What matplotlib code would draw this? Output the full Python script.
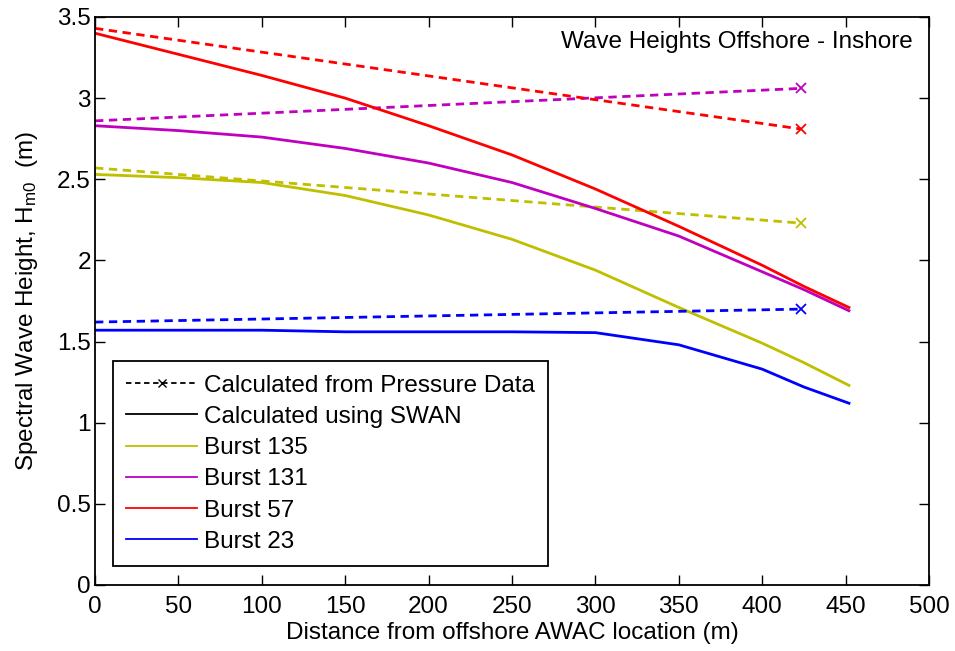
import matplotlib
matplotlib.use('Agg')
import matplotlib.pyplot as plt
from matplotlib.lines import Line2D

plt.rcParams['font.family'] = ['Liberation Sans', 'DejaVu Sans']
plt.rcParams['mathtext.fontset'] = 'custom'
plt.rcParams['mathtext.rm'] = 'Liberation Sans'
plt.rcParams['mathtext.it'] = 'Liberation Sans'

# SWAN model output along the transect
dist_swan = [0, 50, 100, 150, 200, 250, 300, 350, 400, 425, 452]
swan_135 = [2.53, 2.51, 2.48, 2.40, 2.28, 2.13, 1.94, 1.71, 1.49, 1.37, 1.23]
swan_131 = [2.83, 2.80, 2.76, 2.69, 2.60, 2.48, 2.32, 2.15, 1.93, 1.82, 1.69]
swan_57 = [3.40, 3.27, 3.14, 3.00, 2.83, 2.65, 2.44, 2.21, 1.97, 1.84, 1.71]
swan_23 = [1.57, 1.57, 1.57, 1.56, 1.56, 1.56, 1.555, 1.48, 1.33, 1.22, 1.12]

# Offshore / inshore AWAC pressure estimates
dist_awac = [0, 423]
press_135 = [2.57, 2.23]
press_131 = [2.86, 3.06]
press_57 = [3.43, 2.81]
press_23 = [1.62, 1.70]

bursts = ['Burst 135', 'Burst 131', 'Burst 57', 'Burst 23']
colours = ['y', 'm', 'r', 'b']

fs = 17.5

fig = plt.figure(figsize=(9.55, 6.51), dpi=100)
ax = fig.add_axes([0.0995, 0.1014, 0.8733, 0.8725])

for swan, press, c in zip([swan_135, swan_131, swan_57, swan_23],
                          [press_135, press_131, press_57, press_23], colours):
    ax.plot(dist_swan, swan, '-', color=c, lw=2)
    ax.plot(dist_awac, press, '--', color=c, lw=2, dashes=(3, 2))
    ax.plot(dist_awac[-1], press[-1], 'x', color=c, ms=7, mew=1.3)

ax.set_xlim(0, 500)
ax.set_ylim(0, 3.5)
ax.set_xticks(range(0, 501, 50))
ax.set_yticks([0, 0.5, 1, 1.5, 2, 2.5, 3, 3.5])
ax.set_yticklabels(['0', '0.5', '1', '1.5', '2', '2.5', '3', '3.5'])
ax.tick_params(direction='in', length=7, width=1, top=True, right=True,
               labelsize=fs)
ax.tick_params(axis='x', pad=8)
ax.tick_params(axis='y', pad=3)
for s in ax.spines.values():
    s.set_linewidth(1.3)

ax.set_xlabel('Distance from offshore AWAC location (m)', fontsize=fs, labelpad=3)
ax.set_ylabel(r'Spectral Wave Height, H$_{\mathrm{m0}}$  (m)', fontsize=fs, labelpad=12)

ax.text(0.98, 0.956, 'Wave Heights Offshore - Inshore', transform=ax.transAxes,
        ha='right', va='center', fontsize=fs)

handles = [Line2D([0, 0.5, 1], [0, 0, 0], color='k', ls='--', dashes=(3, 2), lw=1.3,
                  marker='x', markevery=[1], ms=6),
           Line2D([], [], color='k', ls='-', lw=1.3)]
for c in colours:
    handles.append(Line2D([], [], color=c, lw=1.3))
labels = ['Calculated from Pressure Data', 'Calculated using SWAN'] + bursts

leg = ax.legend(handles, labels, loc='lower left', bbox_to_anchor=(0.0216, 0.033),
                borderaxespad=0, fontsize=fs, handlelength=2.9, handletextpad=0.3,
                labelspacing=0.38, fancybox=False, framealpha=1, edgecolor='k',
                borderpad=0.55)
leg.get_frame().set_linewidth(1.3)

fig.savefig('out.png', dpi=100)
